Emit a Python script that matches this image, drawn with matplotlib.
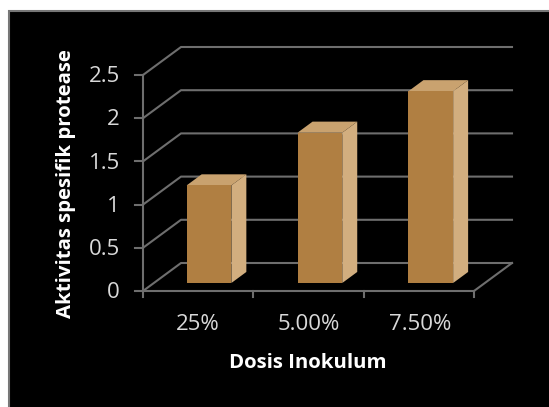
import matplotlib
matplotlib.use('Agg')
import matplotlib.pyplot as plt
from matplotlib.patches import Rectangle

plt.rcParams['font.family'] = ['Open Sans', 'DejaVu Sans']

categories = ['25%', '5.00%', '7.50%']
values = [1.13, 1.74, 2.22]
y_ticks = [0, 0.5, 1, 1.5, 2, 2.5]
y_tick_labels = ['0', '0.5', '1', '1.5', '2', '2.5']
bar_centres = [0.5, 1.505, 2.51]

W, H = 549, 407
FRONT = '#B07F42'
SIDE = '#D2AE7F'
TOP = '#C9A26F'
GRID = '#6E6E6E'

fig = plt.figure(figsize=(W / 100, H / 100), dpi=100, facecolor='white')

# black panel with a grey edge
fig.patches.append(Rectangle((9 / W, -0.01), 1, 1 - 11 / H + 0.01, transform=fig.transFigure,
                             facecolor='black', edgecolor='#777777', linewidth=1.5, zorder=-1))

# axes sit on the front plane of the 3d box
left, right, bottom, top = 143, 474, 291, 75
ax = fig.add_axes([left / W, 1 - bottom / H, (right - left) / W, (bottom - top) / H])
ax.set_xlim(0, 3)
ax.set_ylim(0, 2.5)
ax.patch.set_visible(False)
for s in ax.spines.values():
    s.set_visible(False)
ax.set_xticks([])
ax.set_yticks([])

# depth of the box in data units
DX = 38 / ((right - left) / 3)
DY = 28 / ((bottom - top) / 2.5)


def shift(x, y, d):
    return x + DX * d, y + DY * d


# floor and back wall gridlines
for v, label in zip(y_ticks, y_tick_labels):
    x1, y1 = shift(0, v, 1)
    x2, y2 = shift(3, v, 1)
    ax.plot([0, x1, x2], [v, y1, y2], color=GRID, lw=1.5, clip_on=False, zorder=1)
    ax.plot([-0.07, 0], [v, v], color=GRID, lw=1.5, clip_on=False, zorder=1)
    ax.text(-0.21, v - 0.02, label, color='#D9D9D9', fontsize=16,
            ha='right', va='center', clip_on=False)

# front edge of floor and left axis
ax.plot([0, 3], [0, 0], color=GRID, lw=1.5, clip_on=False, zorder=1)
ax.plot([0, 0], [0, 2.5], color=GRID, lw=1.5, clip_on=False, zorder=1)
x1, y1 = shift(3, 0, 1)
ax.plot([3, x1], [0, y1], color=GRID, lw=1.5, clip_on=False, zorder=1)
for i in range(4):
    ax.plot([i, i], [0, -0.07], color=GRID, lw=1.5, clip_on=False, zorder=1)

# bars, each one front, side and top face
bar_w = 0.405
d0, d1 = 0.286, 0.68
for c, v, name in zip(bar_centres, values, categories):
    xa = c - bar_w / 2
    xb = c + bar_w / 2
    p = [shift(xa, 0, d0), shift(xb, 0, d0), shift(xb, v, d0), shift(xa, v, d0)]
    q = [shift(xb, 0, d0), shift(xb, 0, d1), shift(xb, v, d1), shift(xb, v, d0)]
    r = [shift(xa, v, d0), shift(xb, v, d0), shift(xb, v, d1), shift(xa, v, d1)]
    ax.fill(*zip(*q), color=SIDE, lw=0, clip_on=False, zorder=3)
    ax.fill(*zip(*r), color=TOP, lw=0, clip_on=False, zorder=3)
    ax.fill(*zip(*p), color=FRONT, lw=0, clip_on=False, zorder=4)
    ax.text(c, -0.39, name, color='#D9D9D9', fontsize=16,
            ha='center', va='center', clip_on=False)

fig.text(308 / W, 1 - 363 / H, 'Dosis Inokulum', color='white', fontsize=14.7,
         fontweight='bold', ha='center', va='center')
fig.text(66 / W, 1 - 184 / H, 'Aktivitas spesifik protease', color='white', fontsize=14.7,
         fontweight='bold', rotation=90, ha='center', va='center')

fig.savefig('out.png', dpi=100, facecolor=fig.get_facecolor())
